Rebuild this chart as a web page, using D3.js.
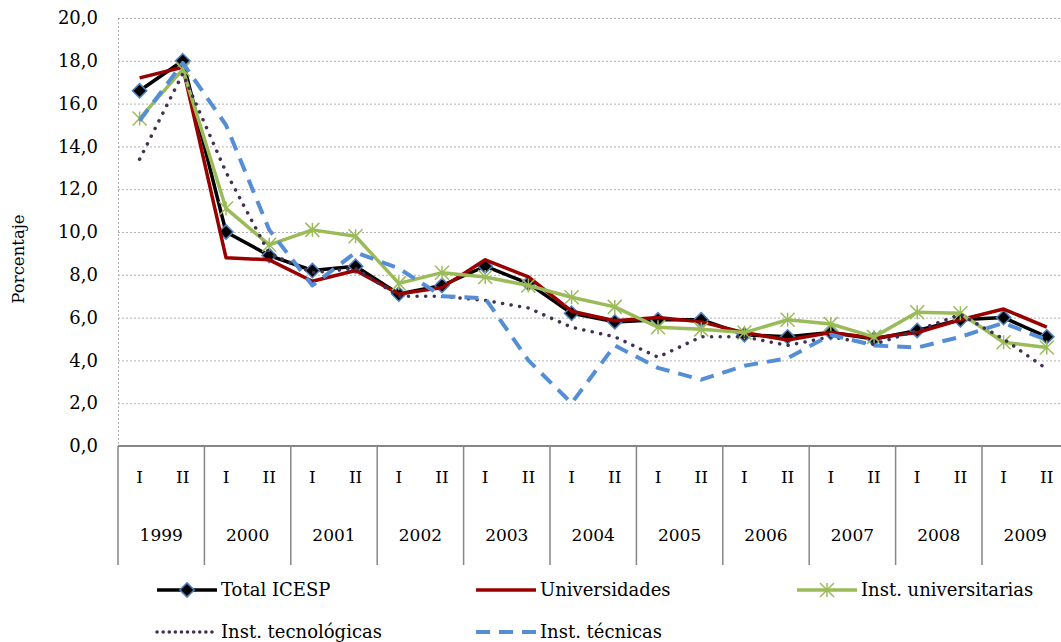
<!DOCTYPE html>
<html>
<head>
<meta charset="utf-8">
<script src="https://cdn.jsdelivr.net/npm/d3@7"></script>
<style>
  body { margin: 0; background: #fff; }
  svg { display: block; }
  text { font-family: "DejaVu Serif", serif; fill: #000; }
</style>
</head>
<body>
<svg id="chart" width="1061" height="642"></svg>
<script>
// data
var years = ["1999", "2000", "2001", "2002", "2003", "2004", "2005", "2006", "2007", "2008", "2009"];
var semesters = ["I", "II"];
var yTicks = [0, 2, 4, 6, 8, 10, 12, 14, 16, 18, 20];

var totalIcesp     = [16.6, 18.0, 10.0, 8.9, 8.2, 8.4, 7.1, 7.5, 8.4, 7.6, 6.2, 5.8, 5.9, 5.9, 5.2, 5.1, 5.3, 5.0, 5.4, 5.9, 6.0, 5.1];
var universidades  = [17.2, 17.7, 8.8, 8.7, 7.7, 8.2, 7.1, 7.4, 8.7, 7.9, 6.3, 5.85, 6.0, 5.8, 5.3, 4.95, 5.3, 5.05, 5.3, 5.9, 6.4, 5.55];
var instUniv       = [15.3, 17.6, 11.1, 9.4, 10.1, 9.8, 7.6, 8.1, 7.9, 7.5, 6.95, 6.5, 5.55, 5.45, 5.3, 5.9, 5.7, 5.1, 6.25, 6.2, 4.85, 4.6];
var instTecnol     = [13.4, 17.4, 12.8, 9.0, 8.1, 8.3, 7.0, 7.0, 6.8, 6.45, 5.55, 5.1, 4.15, 5.1, 5.1, 4.7, 5.1, 4.75, 5.4, 6.15, 5.0, 3.6];
var instTecnicas   = [15.2, 17.9, 15.0, 10.1, 7.5, 9.05, 8.3, 7.0, 6.9, 4.0, 2.0, 4.7, 3.65, 3.1, 3.75, 4.1, 5.2, 4.7, 4.6, 5.1, 5.75, 4.95];

var seriesNames = ["Total ICESP", "Universidades", "Inst. universitarias", "Inst. tecnológicas", "Inst. técnicas"];

(function() {

// layout
var plotLeft = 118, plotTop = 18, plotH = 428, yearW = 86.4;
var plotW = yearW * years.length;

var svg = d3.select("#chart");

var categories = [];
years.forEach(function(yr) {
  semesters.forEach(function(s) { categories.push(yr + "-" + s); });
});

var x = d3.scaleBand().domain(categories).range([plotLeft, plotLeft + plotW]);
var xYear = d3.scaleBand().domain(years).range([plotLeft, plotLeft + plotW]);
var y = d3.scaleLinear().domain([0, 20]).range([plotTop + plotH, plotTop]);

// dotted gridlines
svg.append("g")
  .selectAll("line")
  .data(yTicks.filter(function(d) { return d > 0; }))
  .enter().append("line")
  .attr("x1", plotLeft).attr("x2", plotLeft + plotW)
  .attr("y1", function(d) { return y(d) + 0.5; })
  .attr("y2", function(d) { return y(d) + 0.5; })
  .attr("stroke", "#b0b0b0")
  .attr("stroke-width", 1)
  .attr("stroke-dasharray", "2,2");

// dotted vertical axis line
svg.append("line")
  .attr("x1", plotLeft + 0.5).attr("x2", plotLeft + 0.5)
  .attr("y1", plotTop).attr("y2", y(0))
  .attr("stroke", "#b0b0b0")
  .attr("stroke-dasharray", "2,2");

// y axis labels
var yAxis = d3.axisLeft(y)
  .tickValues(yTicks)
  .tickSize(0)
  .tickPadding(20)
  .tickFormat(function(d) { return d.toFixed(1).replace(".", ","); });

var gy = svg.append("g")
  .attr("transform", "translate(" + plotLeft + ",0)")
  .call(yAxis);
gy.select(".domain").remove();
gy.selectAll("text")
  .style("font-family", "DejaVu Serif, serif")
  .style("font-size", "18px")
  .attr("fill", "#000");

// y axis title
svg.append("text")
  .attr("transform", "translate(24,259) rotate(-90)")
  .attr("text-anchor", "middle")
  .style("font-size", "16.5px")
  .text("Porcentaje");

// category axis
var axisBottom = 565;
svg.append("line")
  .attr("x1", plotLeft).attr("x2", plotLeft + plotW)
  .attr("y1", y(0)).attr("y2", y(0))
  .attr("stroke", "#868686").attr("stroke-width", 2);

svg.append("g")
  .selectAll("line")
  .data(years.concat(["end"]))
  .enter().append("line")
  .attr("x1", function(d, i) { return plotLeft + i * xYear.bandwidth(); })
  .attr("x2", function(d, i) { return plotLeft + i * xYear.bandwidth(); })
  .attr("y1", y(0))
  .attr("y2", axisBottom)
  .attr("stroke", "#868686")
  .attr("stroke-width", 1.5);

svg.append("g")
  .selectAll("text")
  .data(categories)
  .enter().append("text")
  .attr("x", function(d) { return x(d) + x.bandwidth() / 2; })
  .attr("y", 483)
  .attr("text-anchor", "middle")
  .style("font-size", "17px")
  .text(function(d) { return d.split("-")[1]; });

svg.append("g")
  .selectAll("text")
  .data(years)
  .enter().append("text")
  .attr("x", function(d) { return xYear(d) + xYear.bandwidth() / 2; })
  .attr("y", 541)
  .attr("text-anchor", "middle")
  .style("font-size", "17px")
  .text(function(d) { return d; });

// series
var series = [
  { name: seriesNames[0], values: totalIcesp, color: "#000000", width: 3.5, dash: null, marker: "diamond" },
  { name: seriesNames[1], values: universidades, color: "#990000", width: 3.5, dash: null, marker: null },
  { name: seriesNames[2], values: instUniv, color: "#9bbb59", width: 3.5, dash: null, marker: "star" },
  { name: seriesNames[3], values: instTecnol, color: "#403152", width: 3.5, dash: "0.1,8.5", marker: null },
  { name: seriesNames[4], values: instTecnicas, color: "#558ed5", width: 4, dash: "14,9", marker: null }
];

var line = d3.line()
  .x(function(d, i) { return x(categories[i]) + x.bandwidth() / 2; })
  .y(function(d) { return y(d); });

function drawMarker(g, type, cx, cy, color) {
  if (type === "diamond") {
    g.append("path")
      .attr("d", d3.symbol().type(d3.symbolDiamond2).size(130)())
      .attr("transform", "translate(" + cx + "," + cy + ")")
      .attr("fill", "#000")
      .attr("stroke", "#4f81bd")
      .attr("stroke-width", 1.5);
  } else if (type === "star") {
    var r = 7;
    g.append("path")
      .attr("d", "M" + (cx - r) + "," + (cy - r) + "L" + (cx + r) + "," + (cy + r) +
                 "M" + (cx - r) + "," + (cy + r) + "L" + (cx + r) + "," + (cy - r) +
                 "M" + cx + "," + (cy - r) + "L" + cx + "," + (cy + r))
      .attr("stroke", color)
      .attr("stroke-width", 1.5)
      .attr("fill", "none");
  }
}

function capFor(s) {
  return s.dash && s.dash.indexOf("0.1") === 0 ? "round" : "butt";
}

series.forEach(function(s) {
  var g = svg.append("g");
  g.append("path")
    .datum(s.values)
    .attr("d", line)
    .attr("fill", "none")
    .attr("stroke", s.color)
    .attr("stroke-width", s.width)
    .attr("stroke-linejoin", "round")
    .attr("stroke-linecap", capFor(s))
    .attr("stroke-dasharray", s.dash);
  if (s.marker) {
    s.values.forEach(function(v, i) {
      drawMarker(g, s.marker, x(categories[i]) + x.bandwidth() / 2, y(v), s.color);
    });
  }
});

// legend
var legendPos = [[157, 590], [476, 590], [797, 590], [157, 632], [476, 632]];
series.forEach(function(s, i) {
  var lx = legendPos[i][0], ly = legendPos[i][1];
  var g = svg.append("g");
  g.append("line")
    .attr("x1", lx).attr("x2", lx + 60)
    .attr("y1", ly).attr("y2", ly)
    .attr("stroke", s.color)
    .attr("stroke-width", s.width)
    .attr("stroke-linecap", capFor(s))
    .attr("stroke-dasharray", s.dash && s.dash.indexOf("0.1") === 0 ? "0.1,6" : s.dash);
  if (s.marker) drawMarker(g, s.marker, lx + 30, ly, s.color);
  g.append("text")
    .attr("x", lx + 64)
    .attr("y", ly + 6)
    .style("font-size", "18px")
    .text(s.name);
});

})();
</script>
</body>
</html>
